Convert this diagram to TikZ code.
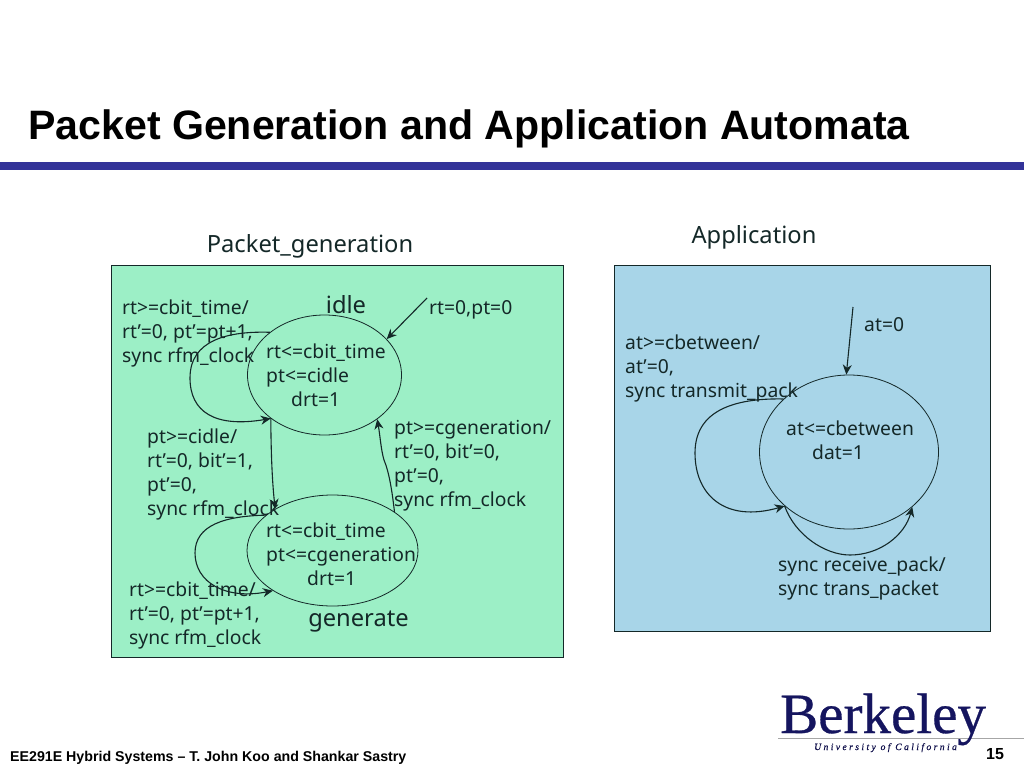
\documentclass[tikz,border=0pt]{standalone}
\usepackage{fontspec}
\setmainfont{Noto Sans}
\newfontfamily\headfont{Liberation Sans}
\newfontfamily\logofont[FakeBold=0.5]{Liberation Serif}
\usetikzlibrary{positioning,arrows.meta,shapes.geometric}
\definecolor{inkdark}{HTML}{142828}
\definecolor{pgreen}{HTML}{9CEFC6}
\definecolor{pblue}{HTML}{A8D5E8}
\definecolor{barblue}{HTML}{333399}
\definecolor{logonavy}{HTML}{15155F}

\begin{document}
\begin{tikzpicture}[
        x=1pt, y=-1pt,
        panel/.style = {rectangle, draw=inkdark, line width=0.8pt, inner sep=0pt, anchor=north west},
        state/.style = {ellipse, draw=inkdark, line width=0.8pt, inner sep=0pt},
        txt/.style   = {inner sep=0pt, anchor=north west, align=left, text=inkdark,
                        font=\fontsize{19.3}{24}\selectfont},
        big/.style   = {inner sep=0pt, text=inkdark, font=\fontsize{23.7}{26}\selectfont},
        arr/.style   = {-{Stealth[length=10pt,width=9pt]}, line width=1.1pt, draw=inkdark}
    ]
    \useasboundingbox (0,0) rectangle (1024,768);
    \fill[white] (0,0) rectangle (1024,768);
    \node[inner sep=0pt, anchor=base west, font=\headfont\bfseries\fontsize{41.1}{44}\selectfont] (title) at (28,139) {Packet Generation and Application Automata};
    \fill[barblue] (0,162) rectangle (1024,170);

    \node[big] (pgenhead) at (310,246) {Packet\_generation};
    \node[big] (apphead)  at (754,237) {Application};
    \node[panel, fill=pgreen, minimum width=452pt, minimum height=392pt] (pgen) at (111,265) {};
    \node[panel, fill=pblue,  minimum width=376pt, minimum height=366pt] (appbox) at (614,265) {};

    \node[state, minimum width=154pt, minimum height=120pt] (idle) at (324.5,375) {};
    \node[state, minimum width=171pt, minimum height=111pt] (gen)  at (332.5,550.5) {};
    \node[state, minimum width=179pt, minimum height=154pt] (app)  at (849,452) {};

    \node[big] (idlename) at (346,305) {idle};
    \node[big] (genname)  at (358.5,622) {generate};

    \node[txt] (idleinv) at (266,343.5) {rt<=cbit\_time\\pt<=cidle\\\hspace*{25pt}drt=1};
    \node[txt] (geninv)  at (266,522.5) {rt<=cbit\_time\\pt<=cgeneration\\\hspace*{41pt}drt=1};
    \node[txt] (appinv)  at (786,420.5) {at<=cbetween\\\hspace*{26pt}dat=1};

    \node[txt] (idleloop) at (122,299.5) {rt>=cbit\_time/\\rt’=0, pt’=pt+1,\\sync rfm\_clock};
    \node[txt] (idleinit) at (429,300.5) {rt=0,pt=0};
    \node[txt] (togen)    at (147,428.5) {pt>=cidle/\\rt’=0, bit’=1,\\pt’=0,\\sync rfm\_clock};
    \node[txt] (toidle)   at (394,420.5) {pt>=cgeneration/\\rt’=0, bit’=0,\\pt’=0,\\sync rfm\_clock};
    \node[txt] (genloop)  at (129,581.5) {rt>=cbit\_time/\\rt’=0, pt’=pt+1,\\sync rfm\_clock};
    \node[txt] (appinit)  at (864,317.5) {at=0};
    \node[txt] (apploop)  at (625,334.5) {at>=cbetween/\\at’=0,\\sync transmit\_pack};
    \node[txt] (apprecv)  at (778,556.5) {sync receive\_pack/\\sync trans\_packet};

    \coordinate (idlestart) at (427,298);
    \coordinate (appstart)  at (853,307);

    \draw[arr] (idlestart) -- (idle.30);
    \draw[arr] (appstart) -- (app.92);
    \draw[arr] (idle.142) .. controls (228,331) and (190,340) .. (190,378) .. controls (190,412) and (215,428) .. (idle.219);
    \draw[arr] (idle.219) .. controls (271,450) and (272,480) .. (gen.144);
    \draw[arr] (gen.152) .. controls (225,516) and (195,525) .. (195,553) .. controls (195,582) and (225,600) .. (gen.214);
    \draw[arr] (gen.32) .. controls (392,490) and (389,472) .. (384,460) .. controls (381,450) and (380,435) .. (idle.-40);
    \draw[arr] (app.141) .. controls (735,398) and (695,410) .. (695,453) .. controls (695,495) and (725,523) .. (app.220);
    \draw[arr] (app.220) .. controls (795,535) and (825,555) .. (850,555) .. controls (880,555) and (905,535) .. (app.-41);

    \node[inner sep=0pt, anchor=base west, font=\headfont\bfseries\fontsize{14.2}{16}\selectfont] (footer) at (10,761) {EE291E Hybrid Systems – T. John Koo and Shankar Sastry};
    \node[inner sep=0pt, anchor=base, font=\headfont\bfseries\fontsize{16}{18}\selectfont] (pagenum) at (995,759) {15};
    \draw[gray!70, line width=0.6pt] (778,738) -- (1024,738);
    \node[inner sep=0pt, anchor=base west, text=logonavy, font=\logofont\fontsize{57}{60}\selectfont] (logo) at (780,733) {Berkeley};
    \node[inner sep=0pt, anchor=base west, text=logonavy!80!black, font=\logofont\itshape\fontsize{9.6}{12}\selectfont] (logosub) at (814,750) {U n i v e r s i t y\ \ o f\ \ C a l i f o r n i a};
\end{tikzpicture}
\end{document}
